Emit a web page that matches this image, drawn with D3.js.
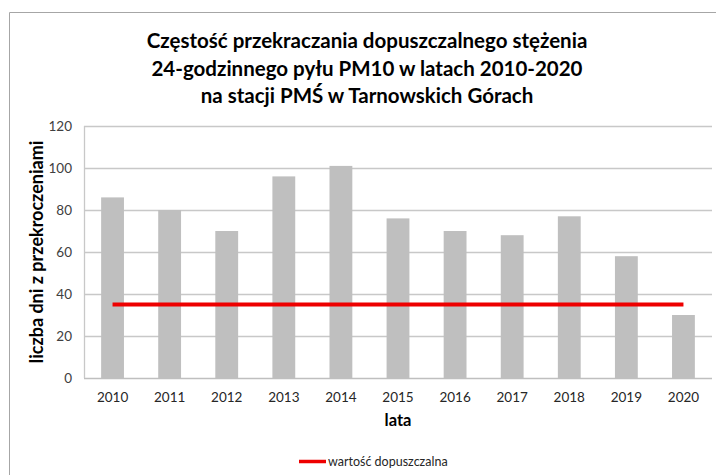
<!DOCTYPE html>
<html><head><meta charset="utf-8">
<script src="https://cdn.jsdelivr.net/npm/d3@7"></script>
<style>body{margin:0;background:#fff}svg{display:block}text{font-family:Lato,"Open Sans",sans-serif}</style>
</head><body>
<script>
const years = ["2010","2011","2012","2013","2014","2015","2016","2017","2018","2019","2020"];
const exceedDays = [86,80,70,96,101,76,70,68,77,58,30];
const limitValue = 35;
const yTicks = [0,20,40,60,80,100,120];
const titleLines = ["Częstość przekraczania dopuszczalnego stężenia","24-godzinnego pyłu PM10 w latach 2010-2020","na stacji PMŚ w Tarnowskich Górach"];
const xTitle = "lata";
const yTitle = "liczba dni z przekroczeniami";
const legendLabel = "wartość dopuszczalna";

const W=716,H=475;
const m={left:84,right:4,top:126,bottom:97};
const svg=d3.select("body").append("svg").attr("width",W).attr("height",H);
// outer frame
svg.append("path").attr("d",`M9.5,${H}V12.5H${W}`).attr("fill","none").attr("stroke","#a6a6a6").attr("stroke-width",1);

const x=d3.scaleBand().domain(years).range([m.left,W-m.right]).paddingInner(0.6).paddingOuter(0.3);
const y=d3.scaleLinear().domain([0,120]).range([H-m.bottom,m.top]);

// gridlines
svg.append("g").selectAll("line").data(yTicks).join("line")
  .attr("x1",m.left).attr("x2",W-m.right)
  .attr("y1",d=>Math.round(y(d))+0.5).attr("y2",d=>Math.round(y(d))+0.5)
  .attr("stroke",d=>d===0?"#bfbfbf":"#c8c8c8").attr("stroke-width",1.3);
// left axis line
svg.append("line").attr("x1",m.left+0.5).attr("x2",m.left+0.5).attr("y1",y(120)).attr("y2",y(0)).attr("stroke","#c8c8c8").attr("stroke-width",1.3);

// y tick labels
const yAxis=d3.axisLeft(y).tickValues(yTicks).tickSize(0).tickPadding(12);
const ga=svg.append("g").attr("transform",`translate(${m.left},0)`).call(yAxis);
ga.select(".domain").remove();
ga.selectAll("text").attr("font-size",13.5).attr("fill","#404040").style("font-family","Lato,'Open Sans',sans-serif");

// bars
svg.append("g").selectAll("rect").data(years).join("rect")
  .attr("x",d=>x(d)).attr("width",x.bandwidth())
  .attr("y",(d,i)=>y(exceedDays[i])).attr("height",(d,i)=>y(0)-y(exceedDays[i]))
  .attr("fill","#bfbfbf");

// x labels
const xAxis=d3.axisBottom(x).tickSize(0).tickPadding(14);
const gx=svg.append("g").attr("transform",`translate(0,${y(0)})`).call(xAxis);
gx.select(".domain").remove();
gx.selectAll("text").attr("font-size",13.5).attr("fill","#262626").style("font-family","Lato,'Open Sans',sans-serif");

// limit line
const cx=d=>x(d)+x.bandwidth()/2;
svg.append("line").attr("x1",cx(years[0])).attr("x2",cx(years[years.length-1]))
  .attr("y1",y(limitValue)).attr("y2",y(limitValue)).attr("stroke","#ee0000").attr("stroke-width",4);

// title
const t=svg.append("text").attr("text-anchor","middle").attr("font-weight","bold").attr("font-size",20.5).attr("fill","#000");
titleLines.forEach((l,i)=>t.append("tspan").attr("x",367).attr("y",48+i*27.5).text(l));

// axis titles
svg.append("text").attr("x",398).attr("y",426).attr("text-anchor","middle").attr("font-weight","bold").attr("font-size",16.5).text(xTitle);
svg.append("text").attr("transform","translate(43,252) rotate(-90)").attr("text-anchor","middle").attr("font-weight","bold").attr("font-size",18).text(yTitle);

// legend
svg.append("line").attr("x1",299).attr("x2",326).attr("y1",461.5).attr("y2",461.5).attr("stroke","#ee0000").attr("stroke-width",3.5);
svg.append("text").attr("x",328).attr("y",465.5).attr("font-size",12.5).attr("fill","#262626").text(legendLabel);
</script>
</body></html>
